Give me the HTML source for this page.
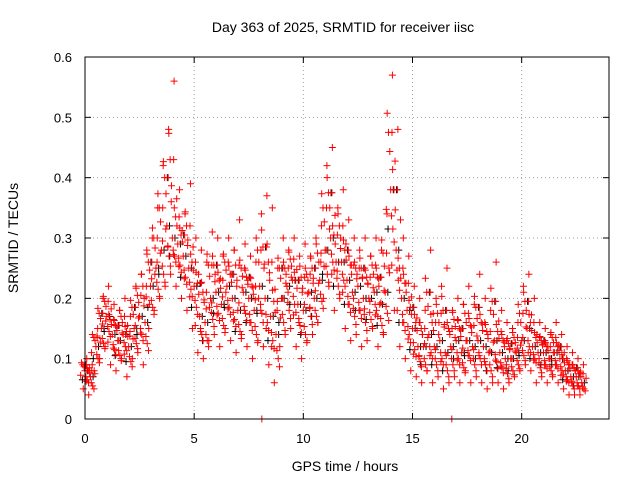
<!DOCTYPE html>
<html><head><meta charset="utf-8"><style>
body{margin:0;background:#fff}
svg{display:block;font-family:"Liberation Sans",sans-serif}
</style></head><body>
<svg id="chart" width="640" height="480" viewBox="0 0 640 480">
<rect x="0" y="0" width="640" height="480" fill="#fff"/>
<text x="343" y="32" font-size="14" text-anchor="middle">Day 363 of 2025, SRMTID for receiver iisc</text>
<text x="345" y="471" font-size="14" text-anchor="middle">GPS time / hours</text>
<text x="0" y="0" font-size="14" text-anchor="middle" transform="translate(18,238) rotate(-90)">SRMTID / TECUs</text>
<g id="grid"></g>
<g id="ticks"></g>
<g id="black" stroke="#000" stroke-width="1"></g>
<g id="red" stroke="#f00" stroke-width="1"></g>
<rect x="85" y="57" width="524" height="362" fill="none" stroke="#000" stroke-width="1"/>
</svg>
<script>
const xTicks=[0,5,10,15,20];
const yTicks=[0,0.1,0.2,0.3,0.4,0.5,0.6];
const yTickLabels=["0","0.1","0.2","0.3","0.4","0.5","0.6"];
const times=[0,0.25,0.5,0.75,1,1.25,1.5,1.75,2,2.25,2.5,2.75,3,3.25,3.5,3.75,4,4.25,4.5,4.75,5,5.25,5.5,5.75,6,6.25,6.5,6.75,7,7.25,7.5,7.75,8,8.25,8.5,8.75,9,9.25,9.5,9.75,10,10.25,10.5,10.75,11,11.25,11.5,11.75,12,12.25,12.5,12.75,13,13.25,13.5,13.75,14,14.25,14.5,14.75,15,15.25,15.5,15.75,16,16.25,16.5,16.75,17,17.25,17.5,17.75,18,18.25,18.5,18.75,19,19.25,19.5,19.75,20,20.25,20.5,20.75,21,21.25,21.5,21.75,22,22.25,22.5,22.75];
const lowVals=[.05,.04,.08,.10,.12,.09,.08,.10,.07,.10,.11,.09,.15,.18,.20,.22,.24,.22,.20,.18,.15,.11,.10,.13,.14,.12,.15,.13,.11,.14,.12,.10,.13,.12,.09,.06,.12,.14,.15,.12,.10,.13,.14,.16,.20,.22,.18,.20,.15,.13,.14,.12,.13,.15,.12,.14,.25,.18,.12,.10,.08,.07,.06,.08,.06,.07,.05,.06,.07,.06,.08,.06,.07,.06,.05,.06,.06,.05,.06,.07,.08,.09,.08,.06,.07,.06,.07,.06,.05,.04,.04,.04];
const midVals=[.08,.07,.12,.15,.17,.14,.13,.14,.12,.15,.17,.16,.22,.25,.28,.32,.30,.29,.27,.25,.22,.17,.16,.20,.21,.19,.22,.20,.18,.21,.20,.18,.22,.20,.17,.14,.20,.22,.23,.19,.18,.21,.20,.23,.28,.30,.26,.26,.23,.21,.22,.20,.20,.21,.19,.21,.38,.28,.20,.18,.15,.12,.12,.14,.12,.13,.11,.12,.13,.11,.13,.12,.13,.12,.11,.13,.11,.10,.10,.11,.13,.15,.12,.11,.11,.10,.11,.10,.08,.07,.07,.06];
const highVals=[.10,.09,.15,.20,.22,.19,.18,.20,.17,.22,.24,.28,.30,.35,.42,.48,.56,.38,.34,.39,.30,.28,.26,.31,.30,.27,.30,.28,.33,.29,.27,.26,.34,.37,.35,.25,.30,.28,.30,.27,.29,.27,.30,.32,.42,.45,.35,.38,.33,.30,.28,.30,.27,.30,.28,.34,.57,.48,.30,.27,.22,.20,.18,.28,.20,.22,.25,.18,.20,.19,.22,.19,.24,.20,.18,.26,.18,.16,.15,.16,.22,.24,.20,.16,.15,.14,.16,.14,.12,.11,.10,.09];
const outlierTimes=[8.1,16.8];
const outlierVals=[0,0];

const X0=85,X1=609,Y0=419,Y1=57;
function xs(t){return X0+(t/24)*(X1-X0);}
function ys(v){return Y0-(v/0.6)*(Y0-Y1);}
const NS="http://www.w3.org/2000/svg";
function mk(tag,attrs,parent){const e=document.createElementNS(NS,tag);for(const k in attrs)e.setAttribute(k,attrs[k]);parent.appendChild(e);return e;}
const grid=document.getElementById('grid'),ticks=document.getElementById('ticks');
xTicks.forEach(t=>{const x=xs(t);
 if(t>0){const g=mk('line',{x1:x,x2:x,y1:Y0,y2:Y1,stroke:'#a0a0a0','stroke-dasharray':'1,3'},grid);
 
 }
 const a=mk('line',{x1:x,x2:x,y1:Y0,y2:Y0-6,stroke:'#000'},ticks);
 
 
 const b=mk('line',{x1:x,x2:x,y1:Y1,y2:Y1+6,stroke:'#000'},ticks);
 
 
 const l=mk('text',{x:x,y:443,'font-size':13,'text-anchor':'middle'},ticks);l.textContent=String(t);
 
 
});
yTicks.forEach((v,i)=>{const y=ys(v);
 if(v>0&&v<0.6){const g=mk('line',{x1:X0,x2:X1,y1:y,y2:y,stroke:'#a0a0a0','stroke-dasharray':'1,3'},grid);
 
 }
 const a=mk('line',{x1:X0,x2:X0+6,y1:y,y2:y,stroke:'#000'},ticks);
 
 
 const b=mk('line',{x1:X1,x2:X1-6,y1:y,y2:y,stroke:'#000'},ticks);
 
 
 const l=mk('text',{x:72,y:y+5,'font-size':13,'text-anchor':'end'},ticks);l.textContent=yTickLabels[i];
 
 
});
function plus(g,t,v,name){const x=xs(t),y=ys(v);
 const p=mk('path',{d:`M${x-3.5},${y}H${x+3.5}M${x},${y-3.5}V${y+3.5}`},g);
 
 }
const red=document.getElementById('red'),black=document.getElementById('black');
times.forEach((t,i)=>{
 const lo=lowVals[i],md=midVals[i],hi=highVals[i];
 plus(black,t+0.12,md,'black-point');
 if(i%2===0)plus(black,t-0.12,(lo+md)/2,'black-point');
 if(i%3===0)plus(black,t+0.02,(md+hi)/2,'black-point');
 plus(red,t-0.08,lo,'red-point');
 plus(red,t,md,'red-point');
 plus(red,t+0.08,hi,'red-point');
 plus(red,t+0.1,(lo+md)/2,'red-point');
 plus(red,t-0.1,(md+hi)/2,'red-point');
 plus(red,t+0.04,(lo+md*2)/3,'red-point');
 plus(red,t-0.04,(md*2+hi)/3,'red-point');
 plus(red,t+0.16,(lo*2+md)/3,'red-point');
 plus(red,t-0.16,(md+hi*2)/3,'red-point');
 plus(red,t+0.2,(md*3+hi)/4,'red-point');
 plus(red,t-0.2,(md*3+lo)/4,'red-point');
 plus(red,t+0.06,(md+hi)/2,'red-point');
});
outlierTimes.forEach((t,i)=>plus(red,t,outlierVals[i],'red-outlier-point'));
</script>
</body></html>
